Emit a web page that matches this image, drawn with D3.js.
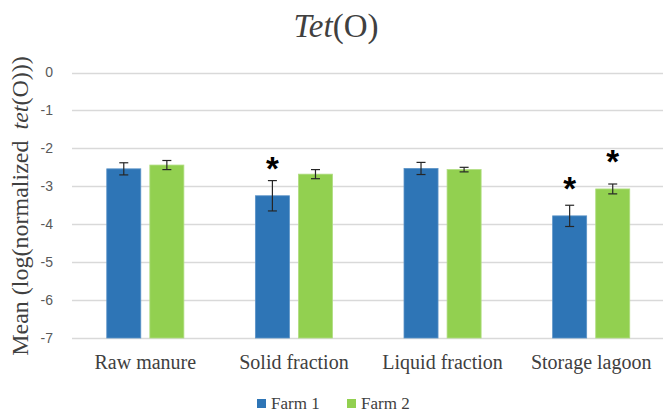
<!DOCTYPE html>
<html>
<head>
<meta charset="utf-8">
<script src="https://cdn.jsdelivr.net/npm/d3@7"></script>
<style>
  body { margin: 0; background: #fff; }
</style>
</head>
<body>
<div id="chart"></div>
<script>
// Data
const categories = ['Raw manure', 'Solid fraction', 'Liquid fraction', 'Storage lagoon'];
const series = ['Farm 1', 'Farm 2'];
const farm1 = [-2.54, -3.25, -2.53, -3.78];
const farm1Err = [0.16, 0.40, 0.16, 0.28];
const farm2 = [-2.44, -2.68, -2.56, -3.07];
const farm2Err = [0.12, 0.12, 0.06, 0.13];
// height (in data units) of the significance asterisks, null = none
const farm1Star = [null, -2.35, null, -2.88];
const farm2Star = [null, null, null, -2.18];
const yTicks = [0, -1, -2, -3, -4, -5, -6, -7];

const colors = {'Farm 1': '#2e75b6', 'Farm 2': '#92d050'};
const edges = {'Farm 1': '#5b93c7', 'Farm 2': '#b0dd80'};

const width = 663, height = 412;

const svg = d3.select('#chart')
  .append('svg')
  .attr('width', width)
  .attr('height', height);

// scales
const x = d3.scaleBand()
  .domain(categories)
  .range([71, 665.5]);

const xInner = d3.scaleBand()
  .domain(series)
  .range([0, x.bandwidth()])
  .paddingInner(0.21)
  .paddingOuter(0.83);

const y = d3.scaleLinear()
  .domain([-7, 0])
  .range([338, 72.5]);

// flatten into rows
const rows = [];
categories.forEach((c, i) => {
  rows.push({cat: c, s: 'Farm 1', v: farm1[i], e: farm1Err[i], star: farm1Star[i]});
  rows.push({cat: c, s: 'Farm 2', v: farm2[i], e: farm2Err[i], star: farm2Star[i]});
});

// gridlines
svg.append('g')
  .selectAll('line')
  .data(yTicks)
  .enter()
  .append('line')
  .attr('x1', 72)
  .attr('x2', width)
  .attr('y1', d => Math.round(y(d)) + 0.5)
  .attr('y2', d => Math.round(y(d)) + 0.5)
  .attr('stroke', '#d9d9d9')
  .attr('stroke-width', 1.3);

// y tick labels
svg.append('g')
  .selectAll('text')
  .data(yTicks)
  .enter()
  .append('text')
  .attr('x', 53)
  .attr('y', d => y(d))
  .attr('dy', '0.35em')
  .attr('text-anchor', 'end')
  .style('font-family', '"Liberation Sans", Arial, sans-serif')
  .style('font-size', '14px')
  .style('fill', '#595959')
  .text(d => d);

// bars, from the bottom of the axis up to the value
svg.append('g')
  .selectAll('rect')
  .data(rows)
  .enter()
  .append('rect')
  .attr('x', d => x(d.cat) + xInner(d.s))
  .attr('width', xInner.bandwidth())
  .attr('y', d => y(d.v))
  .attr('height', d => y(-7) - y(d.v))
  .attr('fill', d => colors[d.s])
  .attr('stroke', d => edges[d.s])
  .attr('stroke-width', 0.8);

// error bars
const errG = svg.append('g')
  .attr('stroke', '#262626')
  .attr('stroke-width', 1.2);

rows.forEach(d => {
  const cx = x(d.cat) + xInner(d.s) + xInner.bandwidth() / 2;
  const top = y(d.v + d.e), bot = y(d.v - d.e);
  errG.append('line').attr('x1', cx).attr('x2', cx).attr('y1', top).attr('y2', bot);
  errG.append('line').attr('x1', cx - 4.5).attr('x2', cx + 4.5).attr('y1', top).attr('y2', top);
  errG.append('line').attr('x1', cx - 4.5).attr('x2', cx + 4.5).attr('y1', bot).attr('y2', bot);
});

// significance asterisks
svg.append('g')
  .selectAll('text')
  .data(rows.filter(d => d.star !== null))
  .enter()
  .append('text')
  .attr('x', d => x(d.cat) + xInner(d.s) + xInner.bandwidth() / 2)
  .attr('y', d => y(d.star))
  .attr('dy', '0.55em')
  .attr('text-anchor', 'middle')
  .style('font-family', '"Liberation Sans", Arial, sans-serif')
  .style('font-weight', 'bold')
  .style('font-size', '33px')
  .style('fill', '#000')
  .text('*');

// category labels
svg.append('g')
  .selectAll('text')
  .data(categories)
  .enter()
  .append('text')
  .attr('x', d => x(d) + x.bandwidth() / 2)
  .attr('y', 369)
  .attr('text-anchor', 'middle')
  .style('font-family', '"Liberation Serif", "Times New Roman", serif')
  .style('font-size', '20px')
  .style('fill', '#404040')
  .text(d => d);

// title
const title = svg.append('text')
  .attr('x', 336)
  .attr('y', 37)
  .attr('text-anchor', 'middle')
  .style('font-family', '"Liberation Serif", "Times New Roman", serif')
  .style('font-size', '33px')
  .style('fill', '#404040');
title.append('tspan').style('font-style', 'italic').text('Tet');
title.append('tspan').text('(O)');

// y axis title
const yTitle = svg.append('text')
  .attr('transform', 'translate(28,206) rotate(-90)')
  .attr('text-anchor', 'middle')
  .style('font-family', '"Liberation Serif", "Times New Roman", serif')
  .style('font-size', '24px')
  .style('fill', '#404040');
yTitle.append('tspan').text('Mean (log(normalized ');
yTitle.append('tspan').attr('dx', 5).style('font-style', 'italic').text('tet');
yTitle.append('tspan').text('(O)))');

// legend
const legendX = [257, 347];
const legend = svg.append('g')
  .selectAll('g')
  .data(series)
  .enter()
  .append('g')
  .attr('transform', (d, i) => `translate(${legendX[i]}, 399)`);

legend.append('rect')
  .attr('width', 9)
  .attr('height', 9)
  .attr('fill', d => colors[d]);

legend.append('text')
  .attr('x', 14)
  .attr('y', 10)
  .style('font-family', '"Liberation Serif", "Times New Roman", serif')
  .style('font-size', '17px')
  .style('fill', '#404040')
  .text(d => d);
</script>
</body>
</html>
